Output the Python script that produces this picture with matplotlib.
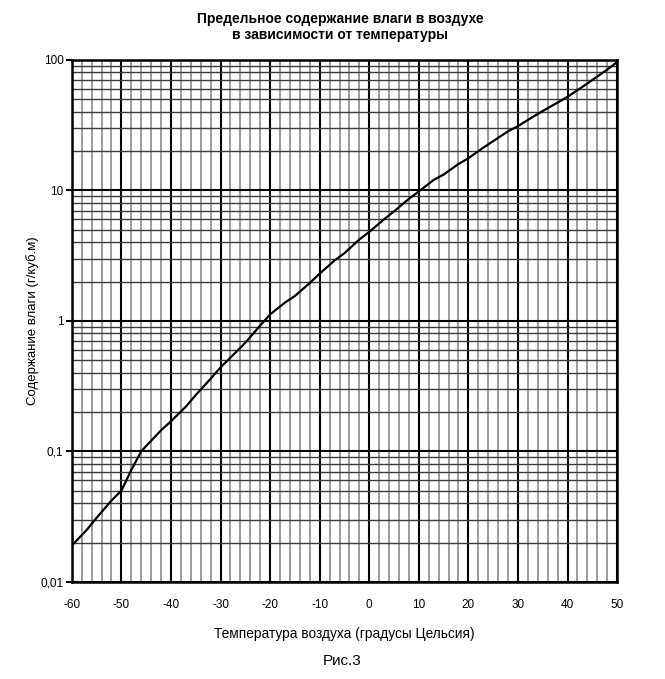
import numpy as np
import matplotlib
matplotlib.use('Agg')
import matplotlib.pyplot as plt
from matplotlib.ticker import MultipleLocator, LogLocator, NullFormatter

plt.rcParams['font.family'] = ['Liberation Sans', 'DejaVu Sans']

# temperature (deg C) and max moisture content (g/m3)
temps = [-60, -57, -55, -52, -50, -48, -46, -45, -42, -40, -37, -35, -32, -30,
         -27, -25, -22, -20, -17, -15, -12, -10, -7, -5, -2, 0, 3, 5, 8, 10,
         13, 15, 18, 20, 23, 25, 28, 30, 33, 35, 38, 40, 43, 45, 48, 50]
moisture = [0.019, 0.025, 0.031, 0.042, 0.05, 0.072, 0.1, 0.11, 0.145, 0.17,
            0.22, 0.27, 0.36, 0.44, 0.57, 0.68, 0.92, 1.12, 1.38, 1.55, 1.95,
            2.3, 2.9, 3.3, 4.2, 4.8, 6.0, 6.9, 8.6, 9.8, 12.0, 13.2, 15.9, 17.6,
            21.2, 23.8, 28.3, 31, 36.5, 40.5, 47, 52, 62, 70, 84, 96]

xticks = [-60, -50, -40, -30, -20, -10, 0, 10, 20, 30, 40, 50]
yticks = [0.01, 0.1, 1, 10, 100]
ylabels = ['0,01', '0,1', '1', '10', '100']

fig = plt.figure(figsize=(6.65, 6.79), dpi=100)
ax = fig.add_axes([0.108, 0.143, 0.82, 0.769])

ax.plot(temps, moisture, color='black', lw=1.6, zorder=5)

ax.set_yscale('log')
ax.set_xlim(-60, 50)
ax.set_ylim(0.01, 100)

ax.set_xticks(xticks)
ax.set_xticklabels([str(t) for t in xticks])
ax.xaxis.set_minor_locator(MultipleLocator(2))
ax.set_yticks(yticks)
ax.set_yticklabels(ylabels)
ax.yaxis.set_minor_locator(LogLocator(base=10, subs=np.arange(2, 10), numticks=20))
ax.yaxis.set_minor_formatter(NullFormatter())

# graph-paper style grid
ax.grid(which='major', axis='both', color='black', lw=1.5)
ax.grid(which='minor', axis='y', color='#3a3a3a', lw=1.0)
ax.grid(which='minor', axis='x', color='#808080', lw=1.1)
ax.set_axisbelow(True)

ax.tick_params(which='minor', length=0)
ax.tick_params(which='major', axis='y', length=4, width=1.5, labelsize=8.5, pad=2)
ax.tick_params(which='major', axis='x', length=0, labelsize=8.5, pad=12)
for s in ax.spines.values():
    s.set_linewidth(1.8)
    s.set_color('black')

ax.set_xlabel('Температура воздуха (градусы Цельсия)', fontsize=9.8, labelpad=12)
ax.set_ylabel('Содержание влаги (г/куб.м)', fontsize=9.5, labelpad=1)

fig.text(0.512, 0.983, 'Предельное содержание влаги в воздухе\nв зависимости от температуры',
         ha='center', va='top', fontsize=10, fontweight='bold', linespacing=1.25)
fig.text(0.515, 0.027, 'Рис.3', ha='center', va='center', fontsize=11)

plt.savefig('out.png', dpi=100)
